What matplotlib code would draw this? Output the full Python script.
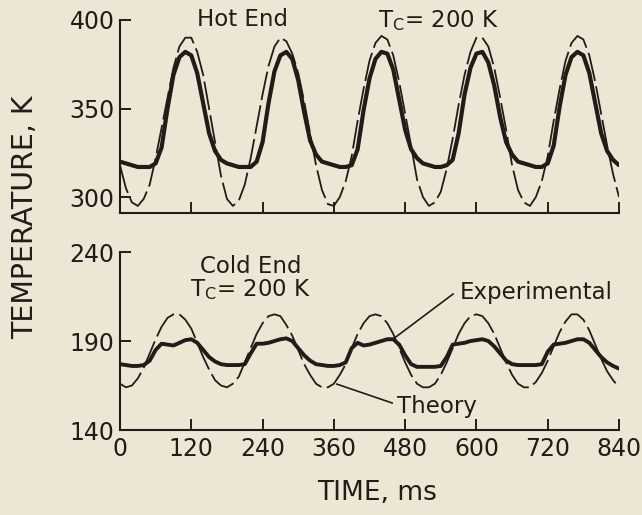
import matplotlib
matplotlib.use("Agg")
import matplotlib.pyplot as plt
import numpy as np

# ---- data ----
time_ms = list(range(0, 850, 10))

hot_theory = [318, 305, 297, 295, 299, 307, 322, 339, 356, 373,
              385, 390, 390, 382, 369, 350, 331, 312, 299, 295,
              298, 307, 322, 340, 358, 374, 385, 390, 388, 381,
              370, 354, 336, 318, 304, 296, 295, 300, 309, 323,
              343, 361, 377, 387, 391, 389, 380, 365, 347, 329,
              310, 300, 295, 297, 303, 316, 333, 352, 369, 382,
              390, 390, 385, 373, 356, 338, 318, 304, 297, 295,
              300, 309, 323, 343, 361, 377, 387, 391, 389, 380,
              365, 347, 329, 313, 300]

hot_exp = [320, 319, 318, 317, 317, 317, 319, 328, 350, 369,
           379, 382, 380, 370, 353, 336, 326, 321, 319, 318,
           317, 317, 317, 320, 331, 353, 371, 380, 382, 378,
           366, 348, 332, 324, 320, 319, 318, 317, 317, 318,
           327, 349, 367, 378, 382, 381, 372, 355, 338, 327,
           322, 319, 318, 317, 317, 318, 321, 336, 358, 373,
           381, 382, 376, 363, 345, 331, 324, 320, 319, 318,
           317, 317, 319, 329, 351, 369, 379, 382, 380, 370,
           353, 336, 326, 321, 318]

cold_theory = [166, 164, 165, 169, 175, 183, 191, 198, 203, 205,
               205, 202, 197, 189, 181, 174, 168, 165, 164, 166,
               170, 178, 186, 194, 200, 204, 205, 204, 199, 193,
               185, 177, 171, 166, 164, 164, 166, 171, 177, 186,
               194, 200, 204, 205, 204, 200, 194, 186, 178, 171,
               166, 164, 164, 166, 171, 178, 186, 194, 200, 204,
               205, 204, 200, 194, 186, 178, 171, 166, 164, 164,
               167, 172, 179, 187, 195, 201, 205, 205, 202, 196,
               188, 180, 173, 168, 164]

cold_exp = [177, 176.5, 176, 176, 176.5, 179, 185, 188.5, 188, 187.5,
            189, 190.5, 191, 189, 185, 181, 178.5, 177, 176.5, 176.5,
            176.5, 177, 183, 188.5, 188.5, 189, 190, 191, 191.5, 190,
            186, 182, 179, 177, 176.5, 176, 176, 176.5, 178, 186,
            189, 187.5, 188, 189, 190, 191, 191, 188, 182, 177,
            175.5, 175.5, 175.5, 175.5, 176, 181, 188, 188.5, 189, 190,
            190.5, 191, 190, 187, 183, 179, 177, 176.5, 176.5, 176.5,
            176.5, 177, 184, 188, 188.5, 189, 190, 191, 191, 189,
            185, 181, 178, 176, 174.5]

x_ticks = [0, 120, 240, 360, 480, 600, 720, 840]
hot_yticks = [300, 350, 400]
cold_yticks = [140, 190, 240]

# ---- style ----
BG = "#ECE7D4"
INK = "#241a17"
plt.rcParams['font.family'] = ['DejaVu Sans']
plt.rcParams['mathtext.fontset'] = 'dejavusans'

fig = plt.figure(figsize=(6.42, 5.15), dpi=100, facecolor=BG)
ax1 = fig.add_axes([0.1869, 0.5864, 0.7773, 0.3748])
ax2 = fig.add_axes([0.1869, 0.1650, 0.7773, 0.3456])

dash = (0, (16, 3))
for ax in (ax1, ax2):
    ax.set_facecolor(BG)
    ax.set_xlim(0, 840)
    for s in ("top", "right"):
        ax.spines[s].set_visible(False)
    for s in ("left", "bottom"):
        ax.spines[s].set_linewidth(1.5)
        ax.spines[s].set_color(INK)
    ax.set_xticks(x_ticks)
    ax.tick_params(direction="in", length=8, width=1.4, color=INK,
                   labelsize=17, labelcolor=INK)
    ax.tick_params(axis="x", pad=5)
    ax.tick_params(axis="y", pad=4)

ax1.plot(time_ms, hot_theory, color=INK, lw=1.3, linestyle=dash)
ax1.plot(time_ms, hot_exp, color=INK, lw=3.0, solid_capstyle="round")
ax1.set_ylim(291, 400)
ax1.set_yticks(hot_yticks)
ax1.tick_params(axis="x", labelbottom=False)

ax2.plot(time_ms, cold_theory, color=INK, lw=1.3, linestyle=dash)
ax2.plot(time_ms, cold_exp, color=INK, lw=2.8, solid_capstyle="round")
ax2.set_ylim(140, 240)
ax2.set_yticks(cold_yticks)

# annotations
fs = 16.5
ax1.text(207, 396.5, "Hot End", ha="center", va="baseline", fontsize=fs, color=INK)
ax1.text(434, 396, r"$\mathrm{T_C}$= 200 K", ha="left", va="baseline", fontsize=fs, color=INK)
ax2.text(219.5, 228.4, "Cold End", ha="center", va="baseline", fontsize=fs, color=INK)
ax2.text(118, 215.3, r"$\mathrm{T_C}$= 200 K", ha="left", va="baseline", fontsize=fs, color=INK)
ax2.text(572, 213.6, "Experimental", ha="left", va="baseline", fontsize=fs, color=INK)
ax2.text(466, 149.7, "Theory", ha="left", va="baseline", fontsize=fs, color=INK)
ax2.plot([560.6, 459.6], [216.4, 191.1], color=INK, lw=1.2)
ax2.plot([365, 458], [165.8, 155.2], color=INK, lw=1.2)

fig.text(377 / 642, 1 - 493 / 515, "TIME, ms", ha="center", va="center", fontsize=19, color=INK)
fig.text(25 / 642, 1 - 217.5 / 515, "TEMPERATURE, K", ha="center", va="center",
         rotation=90, fontsize=20.5, color=INK)

fig.savefig("out.png", dpi=100, facecolor=BG)
